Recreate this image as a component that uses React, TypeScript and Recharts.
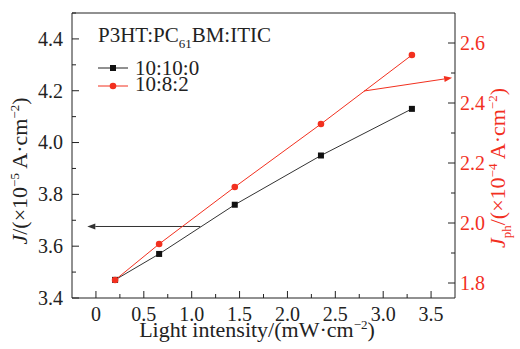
import React from 'react';
import { LineChart, Line, XAxis, YAxis, ReferenceLine, Legend } from 'recharts';

// light intensity, mW/cm^2
const intensity = [0.2, 0.66, 1.45, 2.35, 3.3];
// J for 10:10:0 (x1e-5 A/cm^2), left axis
const j10_10_0 = [3.47, 3.57, 3.76, 3.95, 4.13];
// Jph for 10:8:2 (x1e-4 A/cm^2), right axis
const jph10_8_2 = [1.81, 1.93, 2.12, 2.33, 2.56];

const xTicks = [0, 0.25, 0.5, 0.75, 1, 1.25, 1.5, 1.75, 2, 2.25, 2.5, 2.75, 3, 3.25, 3.5];
const leftTicks = [3.4, 3.5, 3.6, 3.7, 3.8, 3.9, 4.0, 4.1, 4.2, 4.3, 4.4, 4.5];
const rightTicks = [1.8, 1.9, 2.0, 2.1, 2.2, 2.3, 2.4, 2.5, 2.6];

const data = intensity.map((x, i) => ({ x, j: j10_10_0[i], jph: jph10_8_2[i] }));

const RED = '#f2301f';
const INK = '#222';
const FONT = '"Liberation Serif", "Times New Roman", serif';

const isMajor = (v: number, step: number) => Math.abs(v / step - Math.round(v / step)) < 1e-6;

const XTick = (p: any) => {
  const v = p.payload.value;
  const major = isMajor(v, 0.5);
  return (
    <g>
      <line x1={p.x} x2={p.x} y1={p.y} y2={p.y - (major ? 7 : 4)} stroke={INK} />
      {major && (
        <text x={p.x} y={p.y + 23} textAnchor="middle" fontSize={20} fontFamily={FONT} fill={INK}>
          {v === 0 ? '0' : v.toFixed(1)}
        </text>
      )}
    </g>
  );
};

const LeftTick = (p: any) => {
  const v = p.payload.value;
  const major = isMajor(v, 0.2);
  return (
    <g>
      <line x1={p.x} x2={p.x + (major ? 7 : 4)} y1={p.y} y2={p.y} stroke={INK} />
      {major && (
        <text x={p.x - 9} y={p.y} dy="0.34em" textAnchor="end" fontSize={20} fontFamily={FONT} fill={INK}>
          {v.toFixed(1)}
        </text>
      )}
    </g>
  );
};

const RightTick = (p: any) => {
  const v = p.payload.value;
  const major = isMajor(v, 0.2);
  return (
    <g>
      <line x1={p.x} x2={p.x - (major ? 7 : 4)} y1={p.y} y2={p.y} stroke={INK} />
      {major && (
        <text x={p.x + 5} y={p.y} dy="0.34em" textAnchor="start" fontSize={20} fontFamily={FONT} fill={RED}>
          {v.toFixed(1)}
        </text>
      )}
    </g>
  );
};

const Square = (p: any) => (
  <rect key={`sq-${p.index}`} x={p.cx - 3} y={p.cy - 3} width={6} height={6} fill="#111" />
);

// straight line with a filled head at (x2, y2)
const arrow = (color: string) => (p: any) => {
  const { x1, y1, x2, y2 } = p;
  const a = Math.atan2(y2 - y1, x2 - x1);
  const len = 8;
  const w = 3;
  const bx = x2 - len * Math.cos(a);
  const by = y2 - len * Math.sin(a);
  const nx = -Math.sin(a) * w;
  const ny = Math.cos(a) * w;
  return (
    <g>
      <line x1={x1} y1={y1} x2={bx} y2={by} stroke={color} strokeWidth={1} />
      <polygon points={`${x2},${y2} ${bx + nx},${by + ny} ${bx - nx},${by - ny}`} fill={color} />
    </g>
  );
};

const LegendBox = () => (
  <svg width={200} height={80} style={{ overflow: 'visible' }}>
    <text x={2} y={22} fontSize={21} fontFamily={FONT} fill={INK}>
      P3HT:PC<tspan fontSize={13} dy={6}>61</tspan>
      <tspan dy={-6}>BM:ITIC</tspan>
    </text>
    <line x1={2} x2={32} y1={48} y2={48} stroke={INK} />
    <rect x={14} y={45} width={6} height={6} fill="#111" />
    <text x={39} y={55} fontSize={21} fontFamily={FONT} fill={INK}>10:10:0</text>
    <line x1={2} x2={32} y1={66} y2={66} stroke={RED} />
    <circle cx={17} cy={66} r={3.3} fill={RED} />
    <text x={39} y={71} fontSize={21} fontFamily={FONT} fill={INK}>10:8:2</text>
  </svg>
);

export default function App() {
  return (
    <div style={{ position: 'absolute', left: 0, top: 0, width: 520, height: 349, background: '#fff' }}>
      <LineChart width={520} height={349} data={data} margin={{ top: 13, right: 0, bottom: 0, left: 0 }}>
        <XAxis
          dataKey="x"
          type="number"
          domain={[-0.25, 3.75]}
          ticks={xTicks}
          interval={0}
          height={51}
          tickSize={0}
          tickMargin={0}
          tickLine={false}
          axisLine={{ stroke: INK }}
          tick={XTick}
          label={{
            content: () => (
              <text x={257} y={337} textAnchor="middle" fontSize={22} fontFamily={FONT} fill={INK}>
                Light intensity/(mW·cm<tspan fontSize={13} dy={-8}>−2</tspan>
                <tspan dy={8}>)</tspan>
              </text>
            ),
          }}
        />
        <YAxis
          yAxisId="left"
          type="number"
          domain={[3.4, 4.5]}
          ticks={leftTicks}
          interval={0}
          width={72}
          tickSize={0}
          tickMargin={0}
          tickLine={false}
          axisLine={{ stroke: INK }}
          tick={LeftTick}
          label={{
            content: () => (
              <text
                x={27}
                y={171}
                transform="rotate(-90, 27, 171)"
                textAnchor="middle"
                fontSize={22}
                fontFamily={FONT}
                fill={INK}
              >
                <tspan fontStyle="italic">J</tspan>/(×10<tspan fontSize={13} dy={-8}>−5</tspan>
                <tspan dy={8}> A·cm</tspan>
                <tspan fontSize={13} dy={-8}>−2</tspan>
                <tspan dy={8}>)</tspan>
              </text>
            ),
          }}
        />
        <YAxis
          yAxisId="right"
          orientation="right"
          type="number"
          domain={[1.75, 2.7]}
          ticks={rightTicks}
          interval={0}
          width={65}
          tickSize={0}
          tickMargin={0}
          tickLine={false}
          axisLine={{ stroke: INK }}
          tick={RightTick}
          label={{
            content: () => (
              <text
                x={505}
                y={168}
                transform="rotate(-90, 505, 168)"
                textAnchor="middle"
                fontSize={22}
                fontFamily={FONT}
                fill={RED}
              >
                <tspan fontStyle="italic">J</tspan>
                <tspan fontSize={13} dy={6}>ph</tspan>
                <tspan dy={-6}>/(×10</tspan>
                <tspan fontSize={13} dy={-8}>−4</tspan>
                <tspan dy={8}> A·cm</tspan>
                <tspan fontSize={13} dy={-8}>−2</tspan>
                <tspan dy={8}>)</tspan>
              </text>
            ),
          }}
        />
        <ReferenceLine yAxisId="left" y={4.5} stroke={INK} ifOverflow="visible" />
        <ReferenceLine
          yAxisId="left"
          segment={[{ x: 1.09, y: 3.676 }, { x: -0.09, y: 3.676 }]}
          ifOverflow="visible"
          shape={arrow('#333')}
        />
        <ReferenceLine
          yAxisId="right"
          segment={[{ x: 2.8, y: 2.44 }, { x: 3.72, y: 2.484 }]}
          ifOverflow="visible"
          shape={arrow(RED)}
        />
        <Line
          yAxisId="left"
          dataKey="j"
          stroke="#333"
          strokeWidth={1}
          dot={Square}
          isAnimationActive={false}
        />
        <Line
          yAxisId="right"
          dataKey="jph"
          stroke={RED}
          strokeWidth={1}
          dot={{ r: 3.3, fill: RED, stroke: RED, strokeWidth: 0 }}
          isAnimationActive={false}
        />
        <Legend
          layout="vertical"
          align="center"
          verticalAlign="middle"
          content={LegendBox}
          wrapperStyle={{ position: 'absolute', left: 96, top: 20, width: 200, height: 80 }}
        />
      </LineChart>
    </div>
  );
}
